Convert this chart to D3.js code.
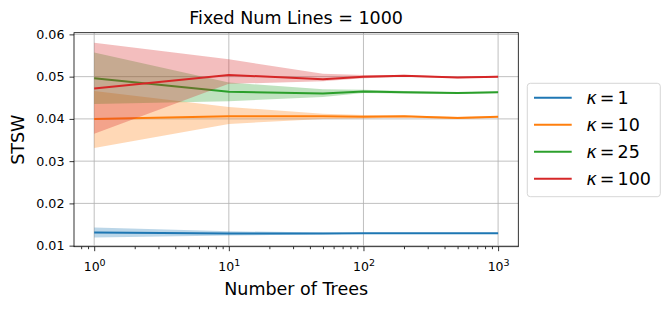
<!DOCTYPE html>
<html>
<head>
<meta charset="utf-8">
<script src="https://cdn.jsdelivr.net/npm/d3@7"></script>
<style>
  body { margin: 0; background: white; }
  text { font-family: "DejaVu Sans", sans-serif; fill: black; }
</style>
</head>
<body>
<script>
// donnees
const trees = [1, 10, 50, 100, 200, 500, 1000]
const kappas = [1, 10, 25, 100]
const colors = ['#1f77b4', '#ff7f0e', '#2ca02c', '#d62728']

const meanK1 = [0.01312, 0.01288, 0.01290, 0.01292, 0.01292, 0.01291, 0.01291]
const loK1 = [0.0119, 0.0124, 0.0127, 0.0128, 0.0128, 0.0128, 0.0128]
const hiK1 = [0.0143, 0.0134, 0.0131, 0.0130, 0.0130, 0.0130, 0.0130]

const meanK10 = [0.0400, 0.0406, 0.0406, 0.0405, 0.0406, 0.0402, 0.0405]
const loK10 = [0.0331, 0.0388, 0.0400, 0.0401, 0.0403, 0.0400, 0.0403]
const hiK10 = [0.0466, 0.0428, 0.0412, 0.0409, 0.0408, 0.0405, 0.0407]

const meanK25 = [0.0496, 0.0464, 0.0460, 0.0465, 0.0463, 0.0461, 0.0463]
const loK25 = [0.0435, 0.0442, 0.0452, 0.0461, 0.0460, 0.0459, 0.0461]
const hiK25 = [0.0557, 0.0486, 0.0470, 0.0469, 0.0466, 0.0463, 0.0465]

const meanK100 = [0.0472, 0.0504, 0.0494, 0.0500, 0.0502, 0.0498, 0.0500]
const loK100 = [0.0365, 0.0483, 0.0489, 0.0496, 0.0500, 0.0496, 0.0498]
const hiK100 = [0.0580, 0.0541, 0.0507, 0.0504, 0.0504, 0.0500, 0.0502]

const yTicks = [0.01, 0.02, 0.03, 0.04, 0.05, 0.06]
const xTicks = [1, 10, 100, 1000]

const means = [meanK1, meanK10, meanK25, meanK100]
const los = [loK1, loK10, loK25, loK100]
const his = [hiK1, hiK10, hiK25, hiK100]

const WIDTH = 670
const HEIGHT = 309
const axLeft = 74, axRight = 518.3, axTop = 32.7, axBottom = 246.7

const x = d3.scaleLog()
  .domain([Math.pow(10, -0.15), Math.pow(10, 3.15)])
  .range([axLeft, axRight])
const y = d3.scaleLinear()
  .domain([0.00975, 0.0604])
  .range([axBottom, axTop])

const svg = d3.select('body')
  .append('svg')
  .attr('width', WIDTH)
  .attr('height', HEIGHT)

// grille
svg.append('g')
  .selectAll('line')
  .data(xTicks)
  .enter()
  .append('line')
  .attr('x1', d => x(d)).attr('x2', d => x(d))
  .attr('y1', axTop).attr('y2', axBottom)
  .attr('stroke', '#b0b0b0').attr('stroke-width', 0.8)
svg.append('g')
  .selectAll('line')
  .data(yTicks)
  .enter()
  .append('line')
  .attr('x1', axLeft).attr('x2', axRight)
  .attr('y1', d => y(d)).attr('y2', d => y(d))
  .attr('stroke', '#b0b0b0').attr('stroke-width', 0.8)

// courbes et bandes
const line = d3.line().x(d => x(d[0])).y(d => y(d[1]))
const area = d3.area().x(d => x(d[0])).y0(d => y(d[1])).y1(d => y(d[2]))

const plot = svg.append('g')
kappas.forEach((k, i) => {
  plot.append('path')
    .datum(trees.map((t, j) => [t, means[i][j]]))
    .attr('d', line)
    .attr('fill', 'none')
    .attr('stroke', colors[i])
    .attr('stroke-width', 2)
  plot.append('path')
    .datum(trees.map((t, j) => [t, los[i][j], his[i][j]]))
    .attr('d', area)
    .attr('fill', colors[i])
    .attr('fill-opacity', 0.3)
})

// axes
const xAxis = svg.append('g')
  .attr('transform', `translate(0,${axBottom})`)
  .call(d3.axisBottom(x).tickValues(xTicks).tickSize(4.5).tickFormat(''))
const minor = []
for (let e = -1; e < 4; e++) {
  for (let m = 2; m < 10; m++) {
    const v = m * Math.pow(10, e)
    if (v > x.domain()[0] && v < x.domain()[1]) minor.push(v)
  }
}
svg.append('g')
  .attr('transform', `translate(0,${axBottom})`)
  .call(d3.axisBottom(x).tickValues(minor).tickSize(2.5).tickFormat(''))

xAxis.selectAll('.tick')
  .append('text')
  .attr('y', 24)
  .attr('text-anchor', 'middle')
  .style('font-size', '12.5px')
  .each(function(d) {
    const t = d3.select(this)
    t.append('tspan').text('10')
    t.append('tspan').attr('dy', -4.5).style('font-size', '9.5px').text(Math.round(Math.log10(d)))
  })

const yAxis = svg.append('g')
  .attr('transform', `translate(${axLeft},0)`)
  .call(d3.axisLeft(y).tickValues(yTicks).tickSize(4.5).tickPadding(5).tickFormat(d3.format('.2f')))
yAxis.selectAll('text')
  .style('font-family', '"DejaVu Sans", sans-serif')
  .style('font-size', '12.7px')

svg.selectAll('.domain').remove()
svg.selectAll('.tick line').attr('stroke', 'black').attr('stroke-width', 0.8)

svg.append('rect')
  .attr('x', axLeft).attr('y', axTop)
  .attr('width', axRight - axLeft).attr('height', axBottom - axTop)
  .attr('fill', 'none')
  .attr('stroke', 'black')
  .attr('stroke-width', 0.8)

// textes
svg.append('text')
  .attr('x', (axLeft + axRight) / 2).attr('y', 24)
  .attr('text-anchor', 'middle')
  .style('font-size', '17.5px')
  .text('Fixed Num Lines = 1000')
svg.append('text')
  .attr('x', (axLeft + axRight) / 2).attr('y', 295)
  .attr('text-anchor', 'middle')
  .style('font-size', '17.5px')
  .text('Number of Trees')
svg.append('text')
  .attr('transform', `translate(24,${(axTop + axBottom) / 2}) rotate(-90)`)
  .attr('text-anchor', 'middle')
  .style('font-size', '17.5px')
  .text('STSW')

// legende
const legend = svg.append('g')
legend.append('rect')
  .attr('x', 527.3).attr('y', 83.3)
  .attr('width', 133).attr('height', 113.4)
  .attr('rx', 3)
  .attr('fill', 'white').attr('fill-opacity', 0.8)
  .attr('stroke', '#cccccc').attr('stroke-width', 0.8)
kappas.forEach((k, i) => {
  const ly = 97.7 + i * 27
  legend.append('line')
    .attr('x1', 534).attr('x2', 571.7)
    .attr('y1', ly).attr('y2', ly)
    .attr('stroke', colors[i]).attr('stroke-width', 2)
  const t = legend.append('text')
    .attr('x', 586.5).attr('y', ly + 6.5)
    .style('font-size', '17.5px')
  t.append('tspan').style('font-style', 'italic').text('κ')
  t.append('tspan').attr('dx', 3).text('=')
  t.append('tspan').attr('dx', 3).text(k)
})
</script>
</body>
</html>
